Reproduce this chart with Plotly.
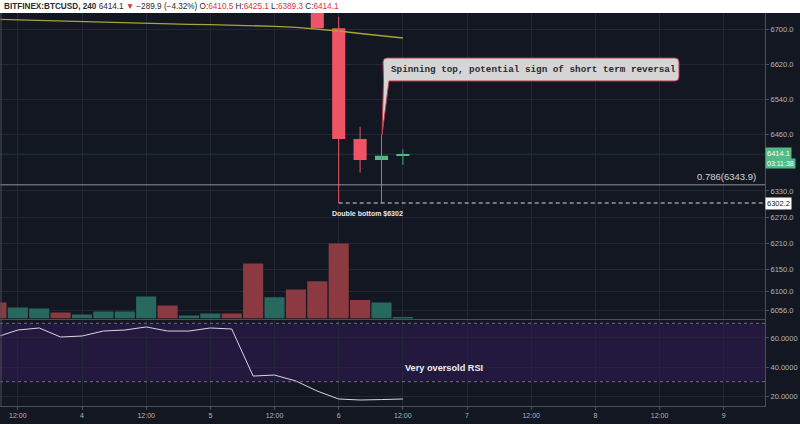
import plotly.graph_objects as go
import pandas as pd

# ---------------- data ----------------
bar_times = pd.date_range("2018-09-03 08:00", periods=20, freq="4h")
volume = [3200, 2200, 2000, 1200, 800, 1400, 1400, 4400, 2600, 600,
          1000, 1000, 11000, 4250, 5800, 7450, 15000, 3700, 3200, 200]
volume_up = [False, True, True, False, True, True, True, True, False, True,
             True, False, False, True, False, False, False, False, True, True]
rsi = [60.6, 65.4, 66.8, 60.6, 61.3, 64.7, 65.4, 67.5, 64.7, 64.7,
       66.8, 66.1, 33.9, 34.6, 30.5, 23.6, 18.2, 17.5, 17.8, 18.2]
ma = [6723.5, 6722.1, 6720.5, 6718.9, 6717.5, 6716.1, 6714.8, 6713.4, 6712.5, 6711.8,
      6711.1, 6710.2, 6708.8, 6707.2, 6704.9, 6701.0, 6696.4, 6690.7, 6685.5, 6680.4]

candle_times = pd.to_datetime(["2018-09-05 20:00", "2018-09-06 00:00", "2018-09-06 04:00",
                               "2018-09-06 08:00", "2018-09-06 12:00"])
c_open = [6790.0, 6703.0, 6449.0, 6401.0, 6410.5]
c_high = [6800.0, 6729.0, 6477.0, 6458.0, 6425.1]
c_low = [6703.0, 6302.2, 6372.0, 6302.2, 6389.3]
c_close = [6703.0, 6449.0, 6401.0, 6410.5, 6414.1]

price_ticks = [6700, 6620, 6540, 6460, 6330, 6270, 6210, 6150, 6100, 6056]
rsi_ticks = [20, 40, 60]
x_ticks = pd.date_range("2018-09-03 12:00", "2018-09-09 00:00", freq="12h")
x_ticktext = ["12:00", "4", "12:00", "5", "12:00", "6", "12:00", "7", "12:00", "8", "12:00", "9"]

last_price = 6414.1
fib_level = 6343.9
double_bottom = 6302.2
rsi_upper, rsi_lower = 70, 30

# ---------------- layout helpers ----------------
W, H = 800, 424
ML, MR, MT, MB = 0, 35, 13, 18
PW, PH = W - ML - MR, H - MT - MB


def px(x):
    return (x - ML) / PW


def py(y):
    return (H - MB - y) / PH


BG = "#131722"
GRID = "#222636"
AXIS = "#4a4f5c"
TXT = "#b2b5be"
UP = "#53b987"
DOWN = "#ef5466"
VUP = "#28695f"
VDOWN = "#8a3a40"
FONT = "Liberation Sans"

t0 = pd.Timestamp("2018-09-04 00:00")
pph = 5.348
x_start = t0 - pd.Timedelta(hours=82.0 / pph)
x_end = t0 + pd.Timedelta(hours=(PW - 82.0) / pph)

main_dom = [py(318.5), 1.0]
rsi_dom = [0.0, py(319.5)]

fig = go.Figure()

# volume
fig.add_trace(go.Bar(
    x=bar_times, y=volume, yaxis="y3", xaxis="x",
    marker=dict(color=[VUP if u else VDOWN for u in volume_up], line=dict(width=0)),
    width=4 * 3600000 * 0.94, hoverinfo="skip", showlegend=False))

# moving average
fig.add_trace(go.Scatter(x=bar_times, y=ma, mode="lines", xaxis="x", yaxis="y",
                         line=dict(color="#a8a534", width=1.3), hoverinfo="skip", showlegend=False))

# candle wicks
for up, col in ((False, DOWN), (True, "#45a878")):
    wx, wy = [], []
    for t, o, h, l, c in zip(candle_times, c_open, c_high, c_low, c_close):
        if (c >= o) == up:
            wx += [t, t, None]
            wy += [l, h, None]
    fig.add_trace(go.Scatter(x=wx, y=wy, mode="lines", xaxis="x", yaxis="y",
                             line=dict(color=col, width=1), hoverinfo="skip", showlegend=False))

# candle bodies
fig.add_trace(go.Bar(
    x=candle_times, base=c_open, y=[c - o for o, c in zip(c_open, c_close)],
    xaxis="x", yaxis="y", width=2.45 * 3600000,
    marker=dict(color=[UP if c >= o else DOWN for o, c in zip(c_open, c_close)], line=dict(width=0)),
    hoverinfo="skip", showlegend=False))

# RSI
fig.add_trace(go.Scatter(x=bar_times, y=rsi, mode="lines", xaxis="x2", yaxis="y2",
                         line=dict(color="#d9d3e6", width=1), hoverinfo="skip", showlegend=False))

shapes = [
    # RSI band
    dict(type="rect", xref="paper", yref="y2", x0=0, x1=1, y0=rsi_lower, y1=rsi_upper,
         fillcolor="#23193f", line=dict(width=0), layer="below"),
    dict(type="line", xref="paper", yref="y2", x0=0, x1=1, y0=rsi_upper, y1=rsi_upper,
         line=dict(color="#6d6a86", width=1, dash="dot")),
    dict(type="line", xref="paper", yref="y2", x0=0, x1=1, y0=rsi_lower, y1=rsi_lower,
         line=dict(color="#6d6a86", width=1, dash="dot")),
    # last price line
    dict(type="line", xref="paper", yref="y", x0=0, x1=1, y0=last_price, y1=last_price,
         line=dict(color="rgba(83,185,135,0.2)", width=1), layer="below"),
    # fib line
    dict(type="line", xref="paper", yref="y", x0=0, x1=1, y0=fib_level, y1=fib_level,
         line=dict(color="#8e929c", width=1)),
    # double bottom dashed line
    dict(type="line", xref="x", yref="y", x0=candle_times[1], x1=x_end, y0=double_bottom, y1=double_bottom,
         line=dict(color="#d6d8de", width=1, dash="4px,3px")),
    # left border
    dict(type="line", xref="paper", yref="paper", x0=px(1), x1=px(1), y0=0, y1=1,
         line=dict(color=AXIS, width=1)),
    # header strip
    dict(type="rect", xref="paper", yref="paper", x0=px(-2), x1=px(W + 2), y0=1, y1=py(-2),
         fillcolor="#ffffff", line=dict(width=0), layer="above"),
]

# callout bubble (box + tail) in pixel positions
bx0, bx1, by0, by1, r = 383, 679, 58, 81, 4
tip = (382, 135)
path = (f"M {px(tip[0])},{py(tip[1])} L {px(bx0 + 0.5)},{py(by1)} "
        f"L {px(bx0)},{py(by0 + r)} Q {px(bx0)},{py(by0)} {px(bx0 + r)},{py(by0)} "
        f"L {px(bx1 - r)},{py(by0)} Q {px(bx1)},{py(by0)} {px(bx1)},{py(by0 + r)} "
        f"L {px(bx1)},{py(by1 - r)} Q {px(bx1)},{py(by1)} {px(bx1 - r)},{py(by1)} "
        f"L {px(bx0 + 6)},{py(by1)} Z")
shapes.append(dict(type="path", xref="paper", yref="paper", path=path,
                   fillcolor="#d5d5d5", line=dict(color="#c0394a", width=1), layer="above"))

red = "#e0313d"
header = (f"<b>BITFINEX:BTCUSD, 240</b> 6414.1 <span style='color:{red}'>▼</span> −289.9 (−4.32%) "
          f"O:<span style='color:{red}'>6410.5</span> H:<span style='color:{red}'>6425.1</span> "
          f"L:<span style='color:{red}'>6389.3</span> C:<span style='color:{red}'>6414.1</span>")

annotations = [
    dict(xref="paper", yref="paper", x=px(2), y=py(6.5), xanchor="left", yanchor="middle",
         text=header, showarrow=False, font=dict(family=FONT, size=8.2, color="#2a2a2a")),
    dict(xref="paper", yref="paper", x=px(389), y=py(69.5), xanchor="left", yanchor="middle",
         text="<b>Spinning top, potential sign of short term reversal</b>", showarrow=False,
         font=dict(family="Liberation Mono", size=9.3, color="#2b2b2b")),
    dict(xref="paper", yref="y", x=px(758), y=fib_level, xanchor="right", yanchor="bottom", yshift=1,
         text="0.786(6343.9)", showarrow=False, font=dict(family=FONT, size=9.5, color="#d1d4dc")),
    dict(xref="paper", yref="paper", x=px(367.5), y=py(214), xanchor="center", yanchor="middle",
         text="<b>Double bottom $6302</b>", showarrow=False, font=dict(family=FONT, size=7, color="#e8e9ec")),
    dict(xref="paper", yref="paper", x=px(403), y=py(367.7), xanchor="left", yanchor="middle",
         text="<b>Very oversold RSI</b>", showarrow=False, font=dict(family=FONT, size=9.2, color="#eeeeee")),
    # price tags
    dict(xref="paper", yref="y", x=1, y=last_price, yshift=1, xanchor="left", yanchor="middle",
         text="6414.1", showarrow=False, bgcolor=UP, borderpad=1,
         font=dict(family=FONT, size=7.5, color="#ffffff")),
    dict(xref="paper", yref="y", x=1, y=last_price, yshift=-9.5, xanchor="left", yanchor="middle",
         text="03:11:38", showarrow=False, bgcolor=UP, borderpad=1,
         font=dict(family=FONT, size=7, color="#ffffff")),
    dict(xref="paper", yref="y", x=1, y=double_bottom, xanchor="left", yanchor="middle",
         text="6302.2", showarrow=False, bgcolor="#ffffff", borderpad=1,
         font=dict(family=FONT, size=7.5, color="#131722")),
]

fig.update_layout(
    width=W, height=H,
    margin=dict(l=ML, r=MR, t=MT, b=MB, pad=0),
    paper_bgcolor=BG, plot_bgcolor=BG,
    barmode="overlay", showlegend=False,
    font=dict(family=FONT, color=TXT),
    xaxis=dict(domain=[0, 1], anchor="y", type="date", range=[x_start, x_end],
               tickvals=list(x_ticks), showticklabels=False, showgrid=True, gridcolor=GRID,
               showline=True, linecolor=AXIS, linewidth=1, zeroline=False, ticks=""),
    xaxis2=dict(domain=[0, 1], anchor="y2", type="date", range=[x_start, x_end], matches="x",
                tickvals=list(x_ticks), ticktext=x_ticktext, showgrid=True, gridcolor=GRID,
                showline=True, linecolor=AXIS, linewidth=1, zeroline=False,
                ticks="outside", ticklen=3, tickcolor=AXIS,
                tickfont=dict(family=FONT, size=7, color=TXT)),
    yaxis=dict(domain=main_dom, anchor="x", side="right", range=[6037.5, 6737.7],
               tickvals=price_ticks, ticktext=[f"{v:.1f}" for v in price_ticks],
               showgrid=True, gridcolor=GRID, zeroline=False,
               showline=True, linecolor=AXIS, linewidth=1,
               ticks="outside", ticklen=3, tickcolor=AXIS,
               tickfont=dict(family=FONT, size=7.5, color=TXT)),
    yaxis2=dict(domain=rsi_dom, anchor="x2", side="right", range=[13.4, 72.6],
                tickvals=rsi_ticks, ticktext=[f"{v:.4f}" for v in rsi_ticks],
                showgrid=True, gridcolor=GRID, zeroline=False,
                showline=True, linecolor=AXIS, linewidth=1,
                ticks="outside", ticklen=3, tickcolor=AXIS,
                tickfont=dict(family=FONT, size=7.5, color=TXT)),
    yaxis3=dict(overlaying="y", anchor="x", side="left", range=[0, 61100], visible=False,
                showgrid=False, zeroline=False),
    shapes=shapes,
    annotations=annotations,
)

fig.write_html("out.html")
